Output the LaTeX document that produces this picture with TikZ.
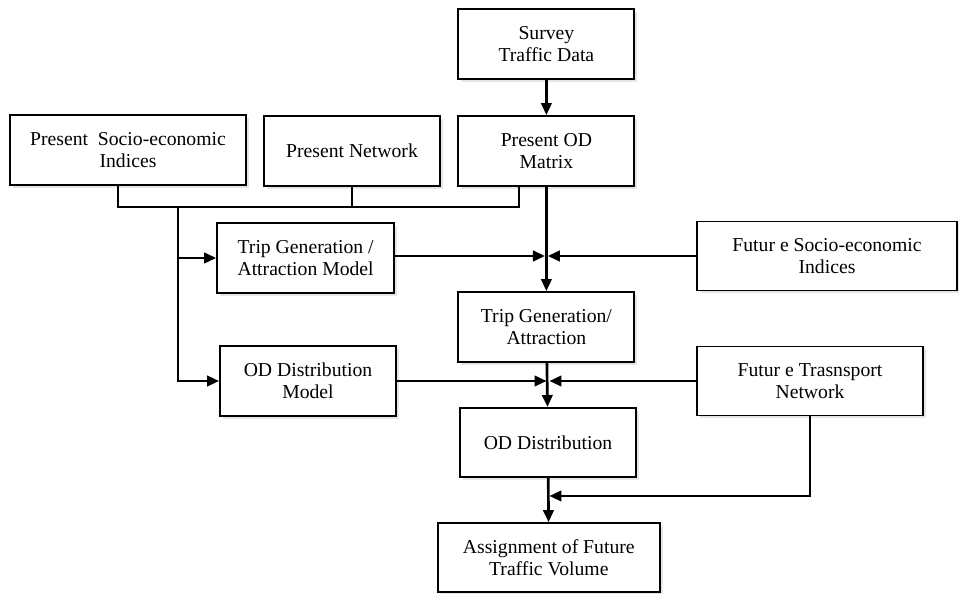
\documentclass[tikz,border=0pt]{standalone}
\usepackage{fontspec}
\setmainfont{Liberation Serif}
\usepackage{tikz}
\usetikzlibrary{positioning, arrows.meta, shadows}

\begin{document}
\begin{tikzpicture}[
    arrow/.style={-{Triangle[length=3mm, width=2.6mm]}, line width=1.9pt},
    link/.style={line width=1.9pt},
    block/.style={rectangle, draw=black, line width=1.3pt, fill=white,
                  minimum width=4.4cm, minimum height=1.75cm, align=center,
                  font=\fontsize{14}{15.5}\selectfont,
                  drop shadow={opacity=0.2, shadow xshift=2pt, shadow yshift=-2pt}}
]
    \useasboundingbox (0, 0) rectangle (23.975, -14.85);

    % Present data
    \node[block] (survey) at (13.66, -1.1) {Survey\\Traffic Data};
    \node[block] (presod) at (13.66, -3.775) {Present OD\\Matrix};
    \node[block, minimum width=5.9cm] (pressoc) at (3.2, -3.75) {Present\ \ Socio-economic\\Indices};
    \node[block] (presnet) at (8.8, -3.775) {Present Network};

    % Models
    \node[block, minimum width=4.425cm] (tgmodel) at (7.64, -6.45) {Trip Generation /\\Attraction Model};
    \node[block] (odmodel) at (7.7, -9.525) {OD Distribution\\Model};

    % Future inputs
    \node[block, minimum width=6.5cm, minimum height=1.725cm] (futsoc) at (20.675, -6.4) {Futur e Socio-economic\\Indices};
    \node[block, minimum width=5.65cm, minimum height=1.725cm] (futnet) at (20.25, -9.525) {Futur e Trasnsport\\Network};

    % Forecast chain
    \node[block] (tga) at (13.66, -8.175) {Trip Generation/\\Attraction};
    \node[block, minimum height=1.725cm] (oddist) at (13.7, -11.06) {OD Distribution};
    \node[block, minimum width=5.55cm, minimum height=1.725cm] (assign) at (13.72, -13.94) {Assignment of Future\\Traffic Volume};

    % Junctions
    \coordinate (busL) at (2.95, -5.175);
    \coordinate (busR) at (12.975, -5.175);
    \coordinate (trunk) at (4.45, -5.175);
    \coordinate (j1) at (tga.north |- futsoc.west);
    \coordinate (j2) at (oddist.north |- futnet.west);
    \coordinate (j3) at (13.7, -12.4);

    \draw[arrow] (survey) -- (presod);

    % Present inputs collected on one bus
    \draw[link] (pressoc.south -| busL) -- (busL) -- (busR) -- (presod.south -| busR);
    \draw[link] (presnet.south) -- (presnet.south |- busL);
    \draw[arrow] (trunk) |- (odmodel.west);
    \draw[arrow] (trunk |- tgmodel.west) -- (tgmodel.west);

    % Generation step
    \draw[arrow] (presod) -- (tga);
    \draw[arrow, shorten >=1pt] (tgmodel.east |- j1) -- (j1);
    \draw[arrow, shorten >=1pt] (futsoc) -- (j1);

    % Distribution step
    \draw[arrow] (tga) -- (oddist);
    \draw[arrow, shorten >=1pt] (odmodel) -- (j2);
    \draw[arrow, shorten >=1pt] (futnet) -- (j2);

    % Assignment step
    \draw[arrow] (oddist) -- (assign);
    \draw[arrow, shorten >=1pt] (futnet.south) |- (j3);
\end{tikzpicture}
\end{document}
